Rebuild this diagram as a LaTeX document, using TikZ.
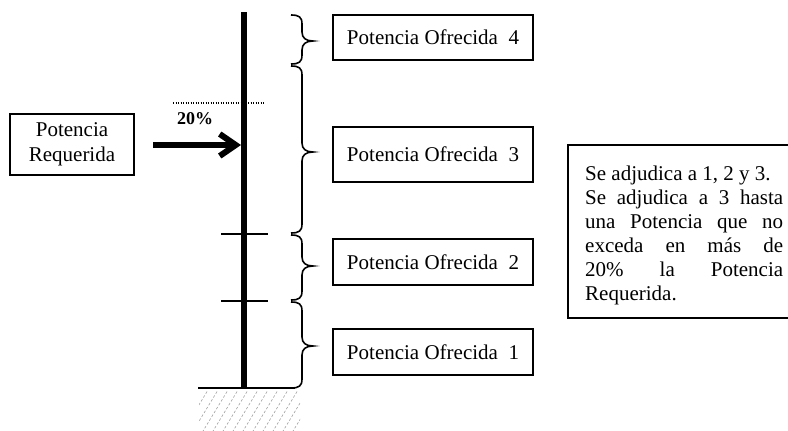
\documentclass[tikz,border=0pt]{standalone}
\usepackage{fontspec}
\setmainfont{Liberation Serif}
\usetikzlibrary{arrows.meta}
\newcommand\mybrace[3]{%
  \draw[bracestyle] (291,#1) .. controls (299,#1) and (302,#1+2) .. (302,#1+9)
    -- (302,#3-9) .. controls (302,#3-3) and (306,#3) .. (313,#3)
    .. controls (306,#3) and (302,#3+3) .. (302,#3+9)
    -- (302,#2-9) .. controls (302,#2-2) and (299,#2) .. (291,#2);}
\tikzset{
  bracestyle/.style={line width=1.6pt},
  pobox/.style={draw, line width=1.3pt, minimum width=200pt, inner sep=0pt,
    font=\fontsize{21}{25}\selectfont},
  ticks/.style={line width=1.5pt},
}
\begin{document}
\begin{tikzpicture}[x=1pt,y=-1pt]
\useasboundingbox (0,0) rectangle (788,431);
% hatch under ground
\begin{scope}
  \clip (199,391) rectangle (300,431);
  \foreach \i in {0,10,...,150}
    \draw[gray!75, line width=0.6pt, dash pattern=on 2.5pt off 2pt] (160+\i,436) -- (188+\i,390);
\end{scope}
% ground
\coordinate (gl) at (198,388);
\coordinate (gr) at (295,388);
\draw[line width=1.6pt] (gl) -- (gr);
% pole
\coordinate (poletop) at (244,12);
\coordinate (polebot) at (244,388);
\draw[line width=5.5pt] (poletop) -- (polebot);
% ticks
\coordinate (t1l) at (221,234); \coordinate (t1r) at (268,234);
\coordinate (t2l) at (221,301); \coordinate (t2r) at (268,301);
\draw[ticks] (t1l) -- (t1r);
\draw[ticks] (t2l) -- (t2r);
% dotted 20% line
\coordinate (dl) at (173,103); \coordinate (dr) at (265,103);
\draw[line width=1.2pt, dash pattern=on 1.2pt off 1.3pt] (dl) -- (dr);
\node[font=\bfseries\fontsize{18}{20}\selectfont, anchor=base west, inner sep=0pt] (pct) at (177,124) {20\%};
% required box and arrow
\node[draw, line width=1.3pt, minimum width=124pt, minimum height=61pt, inner sep=0pt,
  align=center, font=\fontsize{21}{25}\selectfont] (req) at (72,144.5) {Potencia\\Requerida};
\coordinate (as) at (153,145);
\coordinate (ae) at (241,145);
\draw[line width=6pt, -{Straight Barb[length=16pt,width=22pt]}] (as) -- (ae);
% braces
\mybrace{15}{64}{41}
\mybrace{66}{233}{152}
\mybrace{235}{300}{266}
\mybrace{302}{388}{346}
% offered boxes
\node[pobox, minimum height=45pt] (po4) at (433,37.5) {Potencia Ofrecida\ \ 4};
\node[pobox, minimum height=55pt] (po3) at (433,154.5) {Potencia Ofrecida\ \ 3};
\node[pobox, minimum height=46pt] (po2) at (433,262) {Potencia Ofrecida\ \ 2};
\node[pobox, minimum height=46pt] (po1) at (433,352) {Potencia Ofrecida\ \ 1};
% info box
\draw[line width=1.3pt] (800,145) -- (568,145) -- (568,318) -- (800,318);
\node[anchor=north west, inner sep=0pt, align=left, font=\fontsize{21}{24}\selectfont] (info) at (585,166)
  {Se adjudica a 1, 2 y 3.\\
   \makebox[198pt][s]{Se adjudica a 3 hasta}\\
   \makebox[198pt][s]{una Potencia que no}\\
   \makebox[198pt][s]{exceda en más de}\\
   \makebox[198pt][s]{20\% la Potencia}\\
   Requerida.};
\end{tikzpicture}
\end{document}
